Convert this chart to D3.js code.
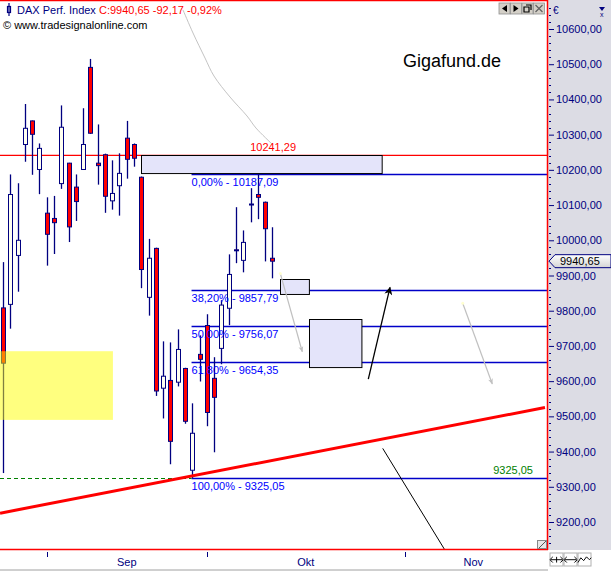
<!DOCTYPE html>
<html><head><meta charset="utf-8">
<script src="https://cdn.jsdelivr.net/npm/d3@7"></script>
<style>
body{margin:0;background:#fff;overflow:hidden}
svg{display:block}
text{font-family:"Liberation Sans",Arial,sans-serif}
</style>
</head><body>
<svg id="c" width="611" height="571"></svg>
<script>
// ---- Data (daily candles, index 0..37) ----
const opens  = [9808,9818,9957,10272,10339,10201,10077,10062,10161,10219,10151,10201,10491,10219,10243,10112,10155,10290,10272,10179,9838,9977,9580,9602,9597,9636,9347,9676,9758,9608,9693,9807,9973,9943,10103,10130,10108,9949];
const highs  = [9938,10187,10162,10387,10340,10275,10122,10126,10383,10220,10187,10375,10515,10329,10246,10227,10247,10339,10275,10181,10004,9979,9713,9710,9747,9638,9537,9730,9790,9668,9830,9960,10094,10028,10148,10187.09,10110,10037];
const lows   = [9339,9749,9854,10223,10186,10131,9928,9961,10146,9995,10055,10200,10302,10158,10078,10087,10070,10175,10209,9864,9786,9558,9494,9364,9585,9479,9325.05,9599,9472,9398,9648,9759,9935,9909,10051,10060,9940,9892];
const closes = [9651,10130,10000,10318,10301,10261,10017,10050,10321,10038,10110,10272,10304,10212,10125,10133,10190,10230,10233,9917,9949,9572,9614,9429,9690,9486,9452,9662,9511,9554,9816,9903,9971,9994,10101,10122,10032.82,9940.65];

const yTickValues = [9200,9300,9400,9500,9600,9700,9800,9900,10000,10100,10200,10300,10400,10500,10600];
const monthNames = ["Sep","Okt","Nov"];
const monthStarts = [6, 28, 55.2];   // index positions of month boundaries
const monthEnds   = [28, 55.2, 74];

const resistance = 10241.29;
const fibLevels = [10187.09, 9857.79, 9756.07, 9654.35, 9325.05];
const fibNames  = ["0,00%","38,20%","50,00%","61,80%","100,00%"];
const lowLevel  = 9325.05;

// annotation geometry in data units [index, price]
const trendLine = [[-0.41, 9225], [74.45, 9525]];
const yellowZone = [[-0.5, 9685], [15.1, 9490]];
const boxes = [
  [[19.0, 10241.29], [52.06, 10190]],
  [[38.1, 9889], [42.07, 9846.5]],
  [[42.07, 9775.5], [49.27, 9639]]
];
const greyArrows = [
  [[38.09, 9906], [41.11, 9683.5]],
  [[63.15, 9821], [67.21, 9592]]
];
const blackArrow = [[50.18, 9606], [53.16, 9866]];
const blackLine  = [[52.16, 9409], [60.71, 9120]];
const greyCurve  = [[24.73,10654],[26.10,10588.6],[27.75,10517.6],[28.98,10466.5],[31.18,10406.9],[33.52,10352.9],[34.75,10318.8],[36.95,10273.4]];

// ---- Scales ----
const W = 611, H = 571;
const plotR = 548, plotB = 550;
const x = d3.scaleLinear().domain([0, 75]).range([3, 3 + 75 * 7.28]);
const y = d3.scaleLinear().domain([9200, 10600]).range([522, 29]);
const fmt = v => d3.format(".2f")(v).replace(".", ",");

const svg = d3.select("#c");
const defs = svg.append("defs");
defs.append("clipPath").attr("id","plot").append("rect").attr("x",0).attr("y",0).attr("width",plotR).attr("height",plotB);
defs.append("marker").attr("id","ahGrey").attr("viewBox","0 0 10 10").attr("refX",9).attr("refY",5)
  .attr("markerWidth",10).attr("markerHeight",6).attr("markerUnits","userSpaceOnUse").attr("orient","auto")
  .append("path").attr("d","M0,1 L10,5 L0,9 L3,5 Z").attr("fill","#c0c0c0");
defs.append("marker").attr("id","ahBlack").attr("viewBox","0 0 10 10").attr("refX",9).attr("refY",5)
  .attr("markerWidth",11).attr("markerHeight",8).attr("markerUnits","userSpaceOnUse").attr("orient","auto")
  .append("path").attr("d","M0,0 L10,5 L0,10 L3,5 Z").attr("fill","#000");
const grad = defs.append("linearGradient").attr("id","tag").attr("x1",0).attr("y1",0).attr("x2",0).attr("y2",1);
grad.append("stop").attr("offset","0").attr("stop-color","#ffffff");
grad.append("stop").attr("offset","1").attr("stop-color","#d4d4d4");

// axis panel
svg.append("rect").attr("x",plotR).attr("y",0).attr("width",W-plotR).attr("height",plotB).attr("fill","#dcdce4");

const plot = svg.append("g").attr("clip-path","url(#plot)");

// grey freehand curve
plot.append("path").datum(greyCurve)
  .attr("d", d3.line().x(d=>x(d[0])).y(d=>y(d[1])).curve(d3.curveCatmullRom))
  .attr("fill","none").attr("stroke","#c4c4c4").attr("stroke-width",1);

// resistance line
plot.append("line").attr("x1",0).attr("x2",plotR).attr("y1",y(resistance)).attr("y2",y(resistance))
  .attr("stroke","#ff0000").attr("stroke-width",1.2);

// fib lines
const fibX0 = x(25.9);
fibLevels.forEach((v,k)=>{
  plot.append("line").attr("x1",fibX0).attr("x2",plotR).attr("y1",Math.round(y(v))+0.5).attr("y2",Math.round(y(v))+0.5)
    .attr("stroke","#0000c8").attr("stroke-width",1.3);
});
// dashed green low line
plot.append("line").attr("x1",0).attr("x2",fibX0).attr("y1",Math.round(y(lowLevel))+0.5).attr("y2",Math.round(y(lowLevel))+0.5)
  .attr("stroke","#008000").attr("stroke-width",1.2).attr("stroke-dasharray","4,3");

// boxes
boxes.forEach(b=>{
  plot.append("rect").attr("x",Math.round(x(b[0][0]))+0.5).attr("y",Math.round(y(b[0][1]))+0.5)
    .attr("width",x(b[1][0])-x(b[0][0])).attr("height",y(b[1][1])-y(b[0][1]))
    .attr("fill","#e4e4fa").attr("stroke","#000").attr("stroke-width",1);
});

// candles
const idx = d3.range(opens.length);
const cg = plot.append("g");
idx.forEach(i=>{
  const cx = Math.round(x(i)) + 0.5;
  const up = closes[i] >= opens[i];
  cg.append("line").attr("x1",cx).attr("x2",cx).attr("y1",y(highs[i])).attr("y2",y(lows[i]))
    .attr("stroke","#000080").attr("stroke-width",1.3);
  const top = y(Math.max(opens[i],closes[i])), bot = y(Math.min(opens[i],closes[i]));
  cg.append("rect").attr("x",cx-2).attr("y",top).attr("width",4).attr("height",Math.max(1,bot-top))
    .attr("fill", up ? "#fffff0" : "#ff0000").attr("stroke","#000080").attr("stroke-width",1);
});

// yellow zone (semi-transparent, over candles)
plot.append("rect").attr("x",x(yellowZone[0][0])).attr("y",y(yellowZone[0][1]))
  .attr("width",x(yellowZone[1][0])-x(yellowZone[0][0])).attr("height",y(yellowZone[1][1])-y(yellowZone[0][1]))
  .attr("fill","#ffff00").attr("fill-opacity",0.5);

// trend line
plot.append("line").attr("x1",x(trendLine[0][0])).attr("y1",y(trendLine[0][1]))
  .attr("x2",x(trendLine[1][0])).attr("y2",y(trendLine[1][1]))
  .attr("stroke","#ff0000").attr("stroke-width",3);

// arrows
greyArrows.forEach(a=>{
  plot.append("line").attr("x1",x(a[0][0])).attr("y1",y(a[0][1])).attr("x2",x(a[1][0])).attr("y2",y(a[1][1]))
    .attr("stroke","#c0c0c0").attr("stroke-width",1.2).attr("marker-end","url(#ahGrey)");
  plot.append("circle").attr("cx",x(a[0][0])).attr("cy",y(a[0][1])).attr("r",1.5).attr("fill","#ffffd0");
});
plot.append("line").attr("x1",x(blackArrow[0][0])).attr("y1",y(blackArrow[0][1])).attr("x2",x(blackArrow[1][0])).attr("y2",y(blackArrow[1][1]))
  .attr("stroke","#000").attr("stroke-width",1.3).attr("marker-end","url(#ahBlack)");
plot.append("line").attr("x1",x(blackLine[0][0])).attr("y1",y(blackLine[0][1])).attr("x2",x(blackLine[1][0])).attr("y2",y(blackLine[1][1]))
  .attr("stroke","#000").attr("stroke-width",1);

// labels in plot
const lab = svg.append("g").attr("font-size","11px");
lab.append("text").attr("x",x(37.1)).attr("y",y(resistance)-4).attr("text-anchor","middle").attr("fill","#ff0000").text(fmt(resistance));
fibLevels.forEach((v,k)=>{
  lab.append("text").attr("x",fibX0).attr("y",y(v)+12).attr("fill","#0000ff").text(fibNames[k]+" - "+fmt(v));
});
lab.append("text").attr("x",x(72.8)).attr("y",y(lowLevel)-4).attr("text-anchor","end").attr("fill","#008000").text(fmt(lowLevel));

// plot border lines
svg.append("line").attr("x1",0).attr("x2",plotR).attr("y1",0.5).attr("y2",0.5).attr("stroke","#ff0000").attr("stroke-width",1.5);
svg.append("line").attr("x1",plotR-0.5).attr("x2",plotR-0.5).attr("y1",0).attr("y2",plotB).attr("stroke","#ff0000").attr("stroke-width",1.5);
svg.append("line").attr("x1",0).attr("x2",plotR).attr("y1",plotB-0.5).attr("y2",plotB-0.5).attr("stroke","#ff0000").attr("stroke-width",1.5);
svg.append("line").attr("x1",0).attr("x2",plotR).attr("y1",570).attr("y2",570).attr("stroke","#a0a0a0").attr("stroke-width",1);

// right axis
const axG = svg.append("g").attr("transform",`translate(${plotR},0)`);
d3.range(9120, 10700, 20).filter(v=>y(v)>4 && y(v)<plotB-2 && v%100!==0).forEach(v=>{
  axG.append("line").attr("x1",1).attr("x2",3).attr("y1",Math.round(y(v))+0.5).attr("y2",Math.round(y(v))+0.5).attr("stroke","#000080");
});
const yAxis = d3.axisRight(y).tickValues(yTickValues).tickSize(5).tickPadding(2).tickFormat(fmt);
axG.call(yAxis);
axG.select(".domain").remove();
axG.selectAll(".tick line").attr("stroke","#000080").attr("x1",1).attr("x2",6);
axG.selectAll(".tick text").attr("fill","#000080").attr("font-size","11px").attr("x",8)
  .attr("font-family","\"Liberation Sans\",Arial,sans-serif");
axG.append("text").attr("x",5).attr("y",14).attr("fill","#000080").attr("font-size","10px").text("€");
axG.append("path").attr("d","M51,7 L57,7 L54,11 Z").attr("fill","#000080");
axG.append("text").attr("x",52).attr("y",17).attr("fill","#000080").attr("font-size","7px").text("x");

// last price tag
const ly = y(closes[closes.length-1]);
svg.append("path").attr("d",`M${plotR+1},${ly} L${plotR+7},${ly-6.5} L${W},${ly-6.5} L${W},${ly+6.5} L${plotR+7},${ly+6.5} Z`)
  .attr("fill","url(#tag)").attr("stroke","#000080").attr("stroke-width",1);
svg.append("text").attr("x",plotR+12).attr("y",ly+4).attr("font-size","11px").attr("fill","#000").text(fmt(closes[closes.length-1]));

// x axis (months)
monthStarts.forEach((m,k)=>{
  svg.append("line").attr("x1",Math.round(x(m))+0.5).attr("x2",Math.round(x(m))+0.5).attr("y1",552).attr("y2",557).attr("stroke","#000080");
  svg.append("text").attr("x",x((m+monthEnds[k])/2)).attr("y",566).attr("text-anchor","middle")
    .attr("font-size","11px").attr("fill","#000080").text(monthNames[k]);
});

// header
svg.append("rect").attr("x",7.5).attr("y",6.5).attr("width",3).attr("height",6).attr("fill","#fff").attr("stroke","#000080").attr("stroke-width",1.2);
svg.append("line").attr("x1",9).attr("x2",9).attr("y1",3).attr("y2",16).attr("stroke","#000080").attr("stroke-width",1.2);
const t1 = svg.append("text").attr("x",17).attr("y",14).attr("font-size","11px");
t1.append("tspan").attr("fill","#000080").text("DAX Perf. Index ");
t1.append("tspan").attr("fill","#ff0000").text("C:9940,65 -92,17 -0,92%");
svg.append("text").attr("x",3).attr("y",29).attr("font-size","11px").attr("fill","#000").text("© www.tradesignalonline.com");
svg.append("text").attr("x",403).attr("y",67).attr("font-size","18px").attr("fill","#000").text("Gigafund.de");

// window buttons top-right
const btns = ["M3,5.5 L8,2 L8,9 Z","M8,5.5 L3,2 L3,9 Z","M2,4 H7 V9 H2 Z M4,2 H9 V7","M2,2 L9,9 M9,2 L2,9"];
btns.forEach((p,k)=>{
  const g = svg.append("g").attr("transform",`translate(${499+k*11.5},3)`);
  g.append("rect").attr("width",11).attr("height",11).attr("fill","#d4d0c8").attr("stroke","#909090").attr("stroke-width",0.8);
  g.append("path").attr("d",p).attr("fill",k<2?"#000":"none").attr("stroke",k===3?"#606060":"#000").attr("stroke-width",k<2?0:1.2);
});
// resize corner
svg.append("rect").attr("x",537.5).attr("y",540.5).attr("width",9).attr("height",8).attr("fill","#e8e8e8").attr("stroke","#888");
svg.append("path").attr("d","M539,548 L546,541").attr("stroke","#555").attr("stroke-width",1);
// bottom-right small buttons
["M2,6 H14 M4,3 L1,6 L4,9 M12,3 L15,6 L12,9 M8,3 V9","M2,6 H14 M4,3 L1,6 L4,9 M12,3 L15,6 L12,9","M1,9 L4,4 L7,7 L10,3 L13,6 L15,4"].forEach((p,k)=>{
  const g = svg.append("g").attr("transform",`translate(${550+k*14},553)`);
  g.append("rect").attr("width",13).attr("height",13).attr("fill","#fff").attr("stroke","#b0b0b0");
  g.append("path").attr("d",p).attr("transform","translate(-1,1) scale(0.95)").attr("fill","none").attr("stroke","#000").attr("stroke-width",1);
});
</script>
</body></html>
